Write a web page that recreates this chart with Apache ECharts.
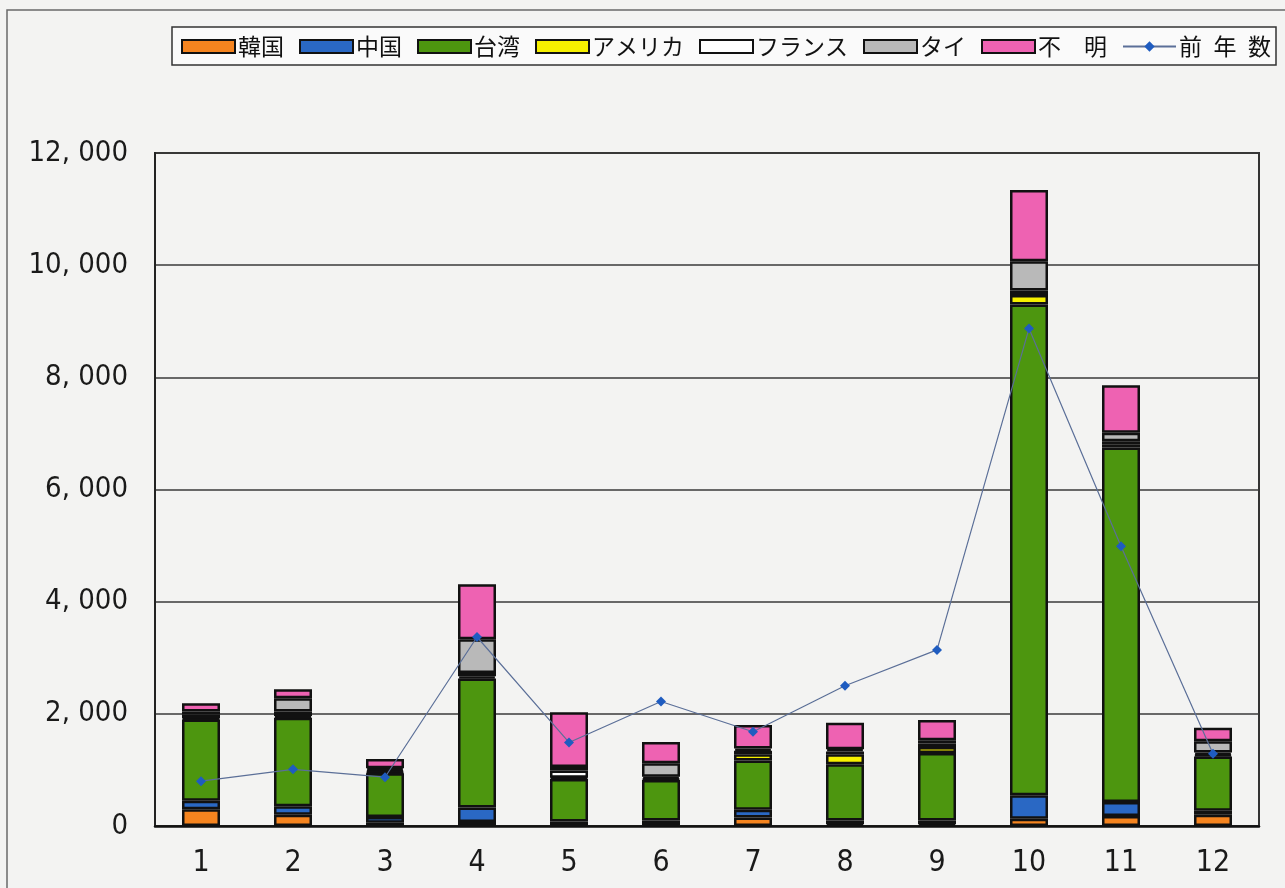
<!DOCTYPE html>
<html>
<head>
<meta charset="utf-8">
<script src="https://cdn.jsdelivr.net/npm/echarts@6/dist/echarts.min.js"></script>
<style>
  html, body { margin: 0; padding: 0; background: #f3f3f2; }
  #chart { width: 1285px; height: 888px; }
</style>
</head>
<body>
<div id="chart"></div>
<script>
// Monthly visitor counts by country of origin (stacked), with previous-year totals
const months = ['1', '2', '3', '4', '5', '6', '7', '8', '9', '10', '11', '12'];

const korea   = [300, 200, 60, 70, 20, 20, 150, 30, 30, 130, 180, 200];
const china   = [150, 150, 100, 260, 60, 80, 140, 70, 70, 420, 250, 70];
const taiwan  = [1450, 1580, 780, 2300, 760, 720, 880, 1000, 1200, 8750, 6320, 970];
const usa     = [20, 30, 20, 40, 20, 20, 110, 180, 110, 170, 50, 30];
const france  = [70, 80, 30, 60, 130, 40, 60, 50, 60, 80, 60, 40];
const thai    = [50, 240, 40, 600, 60, 240, 40, 40, 60, 520, 150, 200];
const unknown = [150, 160, 165, 980, 980, 380, 420, 470, 360, 1270, 850, 240];
const prevYear = [800, 1010, 870, 3370, 1490, 2220, 1680, 2500, 3140, 8870, 4990, 1290];

const yTickLabels = ['0', '2, 000', '4, 000', '6, 000', '8, 000', '10, 000', '12, 000'];

const stackDefs = [
  { name: '韓国',     data: korea,   color: '#f5841f' },
  { name: '中国',     data: china,   color: '#2a68c4' },
  { name: '台湾',     data: taiwan,  color: '#4d960f' },
  { name: 'アメリカ', data: usa,     color: '#f6f000' },
  { name: 'フランス', data: france,  color: '#ffffff' },
  { name: 'タイ',     data: thai,    color: '#b9b9b9' },
  { name: '不　明',   data: unknown, color: '#ee62b2' }
];
const lineName = '前\u2002年\u2002数';

const numFont = '"Liberation Sans Narrow", "DejaVu Sans Condensed", "Liberation Sans", sans-serif';
const jpFont = '"Noto Sans CJK JP", sans-serif';

const series = stackDefs.map(d => ({
  name: d.name,
  type: 'bar',
  stack: 'total',
  data: d.data,
  barWidth: 38,
  itemStyle: { color: d.color, borderColor: '#111', borderWidth: 2.5 },
  emphasis: { disabled: true }
}));

series.push({
  name: lineName,
  type: 'line',
  data: prevYear,
  symbol: 'diamond',
  symbolSize: 10,
  z: 5,
  lineStyle: { color: '#5b6f98', width: 1.2 },
  itemStyle: { color: '#1f5cc0' },
  emphasis: { disabled: true }
});

const chart = echarts.init(document.getElementById('chart'), null, { renderer: 'canvas' });

chart.setOption({
  backgroundColor: '#f3f3f2',
  animation: false,
  graphic: [{
    type: 'rect',
    shape: { x: 7, y: 10, width: 1320, height: 920 },
    style: { fill: 'none', stroke: '#6a6a6a', lineWidth: 1.5 },
    silent: true,
    z: -1
  }],
  legend: {
    left: 172,
    right: 0,
    top: 27,
    padding: [8, 5, 7, 9],
    itemGap: 15,
    itemWidth: 53,
    itemHeight: 13,
    backgroundColor: '#fafafa',
    borderColor: '#333',
    borderWidth: 1.5,
    textStyle: { fontFamily: jpFont, fontSize: 23, color: '#111', padding: [0, 0, 0, -2] },
    data: stackDefs.map(d => ({ name: d.name, icon: 'rect' })).concat([{ name: lineName }])
  },
  grid: {
    left: 155,
    top: 153,
    width: 1104,
    height: 673,
    show: true,
    borderColor: '#333',
    borderWidth: 2,
    backgroundColor: 'transparent'
  },
  xAxis: {
    type: 'category',
    data: months,
    axisLine: { lineStyle: { color: '#111', width: 2.5 } },
    axisTick: { inside: true, length: 6, lineStyle: { color: '#777', width: 1.5 } },
    axisLabel: { fontFamily: numFont, fontSize: 30, color: '#1a1a1a', margin: 22 }
  },
  yAxis: {
    type: 'value',
    min: 0,
    max: 12000,
    interval: 2000,
    axisLine: { show: true, lineStyle: { color: '#222', width: 2 } },
    axisTick: { show: false },
    splitLine: { lineStyle: { color: '#3a3a3a', width: 1.5 } },
    axisLabel: {
      fontFamily: numFont,
      fontSize: 29,
      color: '#1a1a1a',
      margin: 27,
      formatter: v => yTickLabels[Math.round(v / 2000)]
    }
  },
  series: series
});
</script>
</body>
</html>
